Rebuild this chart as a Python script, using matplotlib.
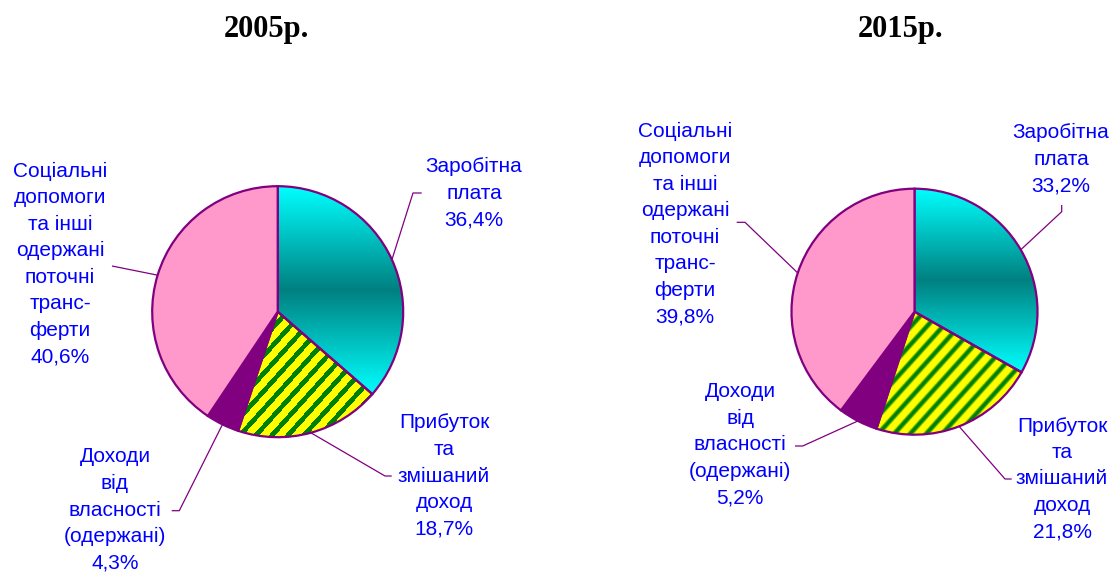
import numpy as np
import matplotlib
matplotlib.use('Agg')
import matplotlib.pyplot as plt
from matplotlib.colors import to_rgb

# ---------------- data ----------------
years = ["2005р.", "2015р."]
categories = ["Заробітна\nплата",
              "Прибуток\nта\nзмішаний\nдоход",
              "Доходи\nвід\nвласності\n(одержані)",
              "Соціальні\nдопомоги\nта інші\nодержані\nпоточні\nтранс-\nферти"]
values_2005 = [36.4, 18.7, 4.3, 40.6]
values_2015 = [33.2, 21.8, 5.2, 39.8]
all_values = [values_2005, values_2015]

# ---------------- style ----------------
EDGE = '#800080'
PINK = '#FF99CC'
PURPLE = '#800080'
CYAN = np.array(to_rgb('#00FFFF'))
TEAL = np.array(to_rgb('#008080'))
YELLOW = np.array(to_rgb('#FFFF00'))
GREEN = np.array(to_rgb('#008000'))
TXT = '#0000FF'

W, H = 1115, 574
fig = plt.figure(figsize=(W / 100, H / 100), dpi=100)
ax = fig.add_axes([0, 0, 1, 1])


def fy(y):
    return H - y


layout = [
    dict(center=(277.7, 311.7), radius=125.5, title=(266, 30), pixel=True,
         labels=[(474, 193), (444, 476), (115, 510), (60, 264)],
         leaders=[[(413, 193), (421.7, 193)], [(385, 476), (391.7, 476)],
                  [(179.3, 510.7), (171.7, 510.7)], [(112, 266)]]),
    dict(center=(914.5, 311.7), radius=123, title=(901, 30), pixel=False,
         labels=[(1061, 159), (1062, 479), (740, 445), (685, 224)],
         leaders=[[(1061.7, 211.7), (1061.7, 205)], [(1005, 479), (1011.7, 479)],
                  [(802.7, 446), (795, 446)], [(745, 222.3), (736.7, 222.3)]]),
]


def wedge_bbox(w):
    th = np.radians(np.linspace(w.theta1, w.theta2, 300))
    xs = np.r_[w.center[0], w.center[0] + w.r * np.cos(th)]
    ys = np.r_[w.center[1], w.center[1] + w.r * np.sin(th)]
    return xs.min(), xs.max(), ys.min(), ys.max()


for year, vals, lay in zip(years, all_values, layout):
    cx, cy = lay['center'][0], fy(lay['center'][1])
    wedges, _ = ax.pie(vals, center=(cx, cy), radius=lay['radius'],
                       startangle=90, counterclock=False,
                       colors=['none', 'none', PURPLE, PINK],
                       wedgeprops=dict(edgecolor=EDGE, linewidth=1.6, zorder=3))
    # gradient for wages wedge
    w = wedges[0]
    x0, x1, y0, y1 = wedge_bbox(w)
    t = np.abs(np.linspace(-1, 1, 400))
    img = TEAL + t[:, None] * (CYAN - TEAL)
    img = img[:, None, :]
    im = ax.imshow(img, extent=(x0, x1, y0, y1), origin='lower', aspect='auto',
                   interpolation='bilinear', zorder=2)
    im.set_clip_path(w)
    # stripes for profit wedge
    w = wedges[1]
    x0, x1, y0, y1 = wedge_bbox(w)
    step = 1.0 if lay['pixel'] else 0.5
    xs = np.arange(np.floor(x0) - 1, np.ceil(x1) + 1, step)
    ys = np.arange(np.floor(y0) - 1, np.ceil(y1) + 1, step)
    X, Y = np.meshgrid(xs, ys)
    p = ((X - 0.9 * Y) / 16.0) % 1.0
    if lay['pixel']:
        g = (p < 0.4).astype(float)
    else:
        g = np.clip((np.cos(2 * np.pi * p) - 0.05) / 0.8, 0, 1) ** 0.7
    img = YELLOW * (1 - g[..., None]) + GREEN * g[..., None]
    im = ax.imshow(img, extent=(xs[0], xs[-1] + step, ys[0], ys[-1] + step), origin='lower',
                   aspect='auto', interpolation='nearest' if lay['pixel'] else 'bilinear',
                   zorder=2)
    im.set_clip_path(w)

    # labels and leaders
    for i, (wd, cat, v) in enumerate(zip(wedges, categories, vals)):
        mid = np.radians((wd.theta1 + wd.theta2) / 2)
        ex = wd.center[0] + wd.r * np.cos(mid)
        ey = wd.center[1] + wd.r * np.sin(mid)
        pts = lay['leaders'][i]
        ax.plot([ex] + [p_[0] for p_ in pts], [ey] + [fy(p_[1]) for p_ in pts],
                color=EDGE, lw=0.9, zorder=4, solid_capstyle='butt')
        lx, ly = lay['labels'][i]
        txt = cat + "\n" + f"{v:.1f}".replace('.', ',') + "%"
        ax.text(lx, fy(ly), txt, ha='center', va='center', multialignment='center',
                fontsize=15, color=TXT, family='Liberation Sans', linespacing=1.5,
                zorder=5)
    tx, ty = lay['title']
    ax.text(tx, fy(ty), year, ha='center', va='center', fontsize=22,
            fontweight='bold', family='Liberation Serif', color='black')

ax.set_xlim(0, W)
ax.set_ylim(0, H)
ax.set_aspect('auto')
ax.axis('off')
fig.savefig('out.png', dpi=100)
